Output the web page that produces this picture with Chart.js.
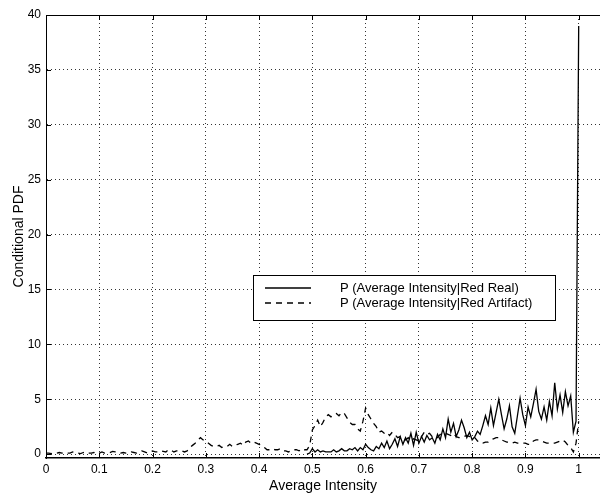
<!DOCTYPE html>
<html lang="en">

<head>
	<meta charset="UTF-8">
	<title>Conditional PDF</title>
	<script src="https://cdn.jsdelivr.net/npm/chart.js"></script>
	<style>
		html, body { margin: 0; padding: 0; background: #fff; overflow: hidden; }
		#wrap { width: 600px; height: 495px; }
	</style>
</head>

<body>

	<div id="wrap">
		<canvas id="myChart" width="600" height="495"></canvas>
	</div>

	<script>

		// histogram bins of the average intensity, step 0.005
		const binWidth = 0.005;

		// P(Average Intensity | Red Artifact), bins 0.000 .. 1.000
		const artifactPdf = [
			0.1, 0.1, 0.05, 0.1, 0.1, 0.15, 0.1, 0.05, 0.1, 0.1,
			0.2, 0.1, 0.1, 0.05, 0.15, 0.2, 0.1, 0.1, 0.15, 0.05,
			0.1, 0.2, 0.1, 0.1, 0.15, 0.25, 0.2, 0.1, 0.1, 0.15,
			0.1, 0.1, 0.2, 0.15, 0.1, 0.25, 0.3, 0.2, 0.1, 0.2,
			0.3, 0.2, 0.2, 0.3, 0.25, 0.2, 0.4, 0.35, 0.2, 0.3,
			0.3, 0.3, 0.2, 0.3, 0.6, 0.8, 1.0, 1.3, 1.5, 1.3,
			1.2, 1.0, 0.8, 0.7, 0.7, 0.8, 0.6, 0.7, 0.7, 0.9,
			0.7, 0.8, 0.9, 1.0, 0.8, 1.1, 1.2, 1.0, 1.1, 1.0,
			0.9, 0.8, 0.6, 0.4, 0.4, 0.5, 0.4, 0.4, 0.5, 0.3,
			0.3, 0.2, 0.3, 0.4, 0.4, 0.3, 0.5, 0.4, 0.4, 0.8,
			2.2, 2.6, 3.1, 2.5, 2.9, 3.4, 3.6, 3.4, 3.6, 3.7,
			3.5, 3.8, 3.7, 3.3, 2.9, 2.7, 2.7, 2.3, 2.1, 3.0,
			4.2, 3.6, 3.2, 2.8, 2.5, 2.0, 2.1, 1.9, 2.0, 1.7,
			2.0, 1.8, 1.5, 1.6, 1.4, 1.3, 1.5, 1.2, 1.4, 1.3,
			1.2, 1.6, 2.0, 1.8, 1.9, 1.6, 1.7, 1.5, 1.8, 1.8,
			1.9, 1.8, 1.7, 1.9, 1.6, 1.5, 1.5, 1.6, 1.7, 1.6,
			1.7, 1.5, 1.2, 1.0, 1.0, 1.1, 1.1, 1.3, 1.4, 1.5,
			1.5, 1.3, 1.2, 1.1, 1.1, 1.0, 1.1, 1.0, 1.0, 1.0,
			1.0, 0.9, 0.9, 1.2, 1.3, 1.3, 1.2, 1.1, 1.0, 1.0,
			1.0, 1.0, 1.1, 1.2, 1.3, 1.1, 0.8, 0.6, 0.2, 1.0,
			3.0
		];

		// P(Average Intensity | Red Real), bins 0.490 .. 1.000
		const realStart = 0.49;
		const realPdf = [
			0.0, 0.1, 0.5, 0.2, 0.4, 0.2, 0.3, 0.2, 0.2, 0.2,
			0.4, 0.2, 0.3, 0.5, 0.3, 0.3, 0.5, 0.4, 0.6, 0.3,
			0.6, 0.4, 0.9, 0.6, 0.4, 0.3, 0.7, 0.5, 1.0, 0.6,
			1.2, 0.5, 0.9, 1.4, 0.7, 1.6, 0.9, 1.5, 1.0, 1.9,
			0.8, 2.0, 1.0, 1.6, 1.1, 1.7, 1.3, 1.5, 1.0, 1.8,
			1.3, 2.3, 1.5, 3.2, 2.0, 2.8, 1.6, 2.2, 3.1, 2.4,
			1.5, 2.0, 1.3, 1.6, 2.1, 1.8, 2.6, 3.5, 2.7, 4.2,
			2.6, 3.8, 5.0, 3.6, 2.3, 3.2, 4.4, 2.5, 1.9, 3.5,
			5.1, 3.6, 2.6, 4.3, 3.4, 4.6, 5.9, 3.9, 3.2, 4.3,
			3.1, 4.8, 3.5, 6.5, 4.1, 5.4, 3.8, 5.7, 4.4, 5.3,
			2.0, 3.0, 39
		];

		const seriesLabels = [
			"P (Average Intensity|Red Real)",
			"P (Average Intensity|Red Artifact)"
		];

		const xTicks = [0, 0.1, 0.2, 0.3, 0.4, 0.5, 0.6, 0.7, 0.8, 0.9, 1];
		const yTicks = [0, 5, 10, 15, 20, 25, 30, 35, 40];

		const binX = (start, i) => Math.round((start + i * binWidth) * 1000) / 1000;

		const realPoints = realPdf.map((v, i) => ({ x: binX(realStart, i), y: v }));
		const artifactPoints = artifactPdf.map((v, i) => ({ x: binX(0, i), y: v }));

		const FONT = "'Liberation Sans', Arial, Helvetica, sans-serif";

		// MATLAB style box: top edge + ticks pointing inwards
		const boxPlugin = {
			id: "box",
			afterDraw(chart) {
				const { ctx, chartArea: a, scales } = chart;
				ctx.save();
				ctx.strokeStyle = "#000";
				ctx.lineWidth = 1;
				ctx.beginPath();
				ctx.moveTo(a.left, a.top + 0.5);
				ctx.lineTo(a.right, a.top + 0.5);
				xTicks.forEach(t => {
					const px = Math.round(scales.x.getPixelForValue(t)) + 0.5;
					ctx.moveTo(px, a.bottom);
					ctx.lineTo(px, a.bottom - 5);
					ctx.moveTo(px, a.top);
					ctx.lineTo(px, a.top + 5);
				});
				yTicks.forEach(t => {
					const py = Math.round(scales.y.getPixelForValue(t)) + 0.5;
					ctx.moveTo(a.left, py);
					ctx.lineTo(a.left + 5, py);
				});
				ctx.stroke();
				ctx.restore();
			}
		};

		// legend box inside the axes
		const legendPlugin = {
			id: "boxLegend",
			afterDraw(chart) {
				const { ctx } = chart;
				const x0 = 253, y0 = 275, w = 302, h = 45;
				ctx.save();
				ctx.fillStyle = "#fff";
				ctx.fillRect(x0, y0, w, h);
				ctx.strokeStyle = "#000";
				ctx.lineWidth = 1;
				ctx.strokeRect(x0 + 0.5, y0 + 0.5, w, h);
				chart.data.datasets.forEach((ds, i) => {
					const y = 288 + i * 15;
					ctx.beginPath();
					ctx.setLineDash(ds.borderDash || []);
					ctx.lineWidth = 1.3;
					ctx.moveTo(265, y);
					ctx.lineTo(311, y);
					ctx.stroke();
					ctx.setLineDash([]);
					ctx.fillStyle = "#000";
					ctx.font = "13px " + FONT;
					ctx.textBaseline = "middle";
					ctx.fillText(ds.label, 340, y);
				});
				ctx.restore();
			}
		};

		const data = {
			datasets: [
				{
					label: seriesLabels[0],
					data: realPoints,
					borderColor: "#000",
					borderWidth: 1.3,
					pointRadius: 0,
					tension: 0,
					fill: false
				},
				{
					label: seriesLabels[1],
					data: artifactPoints,
					borderColor: "#000",
					borderWidth: 1.3,
					borderDash: [6, 5],
					pointRadius: 0,
					tension: 0,
					fill: false
				}
			]
		};

		const config = {
			type: "line",
			data: data,
			options: {
				responsive: false,
				animation: false,
				layout: { padding: { top: 15, right: 0, left: 0, bottom: 0 } },
				plugins: {
					legend: { display: false },
					tooltip: { enabled: false }
				},
				scales: {
					x: {
						type: "linear",
						min: 0,
						max: 1.04,
						afterFit: s => { s.height = 37; },
						grid: { color: "#333", lineWidth: 1, drawTicks: false },
						border: { display: true, color: "#000", width: 1.5, dash: [1, 3] },
						ticks: {
							stepSize: 0.1,
							includeBounds: false,
							padding: 4,
							color: "#000",
							font: { family: FONT, size: 12 },
							maxRotation: 0,
							autoSkip: false,
							callback: v => String(+v.toFixed(1))
						},
						title: {
							display: true,
							text: "Average Intensity",
							color: "#000",
							font: { family: FONT, size: 14 },
							padding: { top: 0, bottom: 0 }
						}
					},
					y: {
						min: -0.35,
						max: 40,
						afterFit: s => { s.width = 46; },
						grid: { color: "#333", lineWidth: 1, drawTicks: false },
						border: { display: true, color: "#000", width: 1, dash: [1, 3] },
						ticks: {
							stepSize: 5,
							includeBounds: false,
							padding: 5,
							color: "#000",
							font: { family: FONT, size: 12 }
						},
						title: {
							display: true,
							text: "Conditional PDF",
							color: "#000",
							font: { family: FONT, size: 14 },
							padding: { top: 11, bottom: 0 }
						}
					}
				}
			},
			plugins: [boxPlugin, legendPlugin]
		};

		const myChart = new Chart(
			document.getElementById("myChart"),
			config
		);

	</script>
</body>

</html>
